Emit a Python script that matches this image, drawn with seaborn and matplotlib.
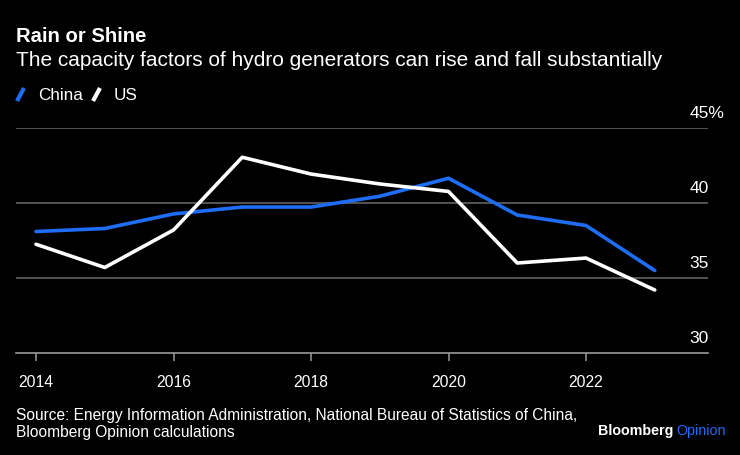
import matplotlib
matplotlib.use("Agg")
import matplotlib.pyplot as plt
from matplotlib.lines import Line2D
import pandas as pd
import seaborn as sns

years = [2014, 2015, 2016, 2017, 2018, 2019, 2020, 2021, 2022, 2023]
china = [38.1, 38.3, 39.27, 39.73, 39.73, 40.45, 41.65, 39.2, 38.5, 35.5]
us = [37.25, 35.7, 38.2, 43.05, 41.93, 41.27, 40.77, 36.0, 36.33, 34.2]
y_ticks = [30, 35, 40, 45]
y_labels = ["30", "35", "40", "45%"]
x_ticks = [2014, 2016, 2018, 2020, 2022]

BG = "#000000"
BLUE = "#1d6df5"
WHITE = "#ffffff"

df = pd.DataFrame({
    "year": years * 2,
    "value": china + us,
    "country": ["China"] * len(years) + ["US"] * len(years),
})

sns.set_theme(style="dark")
plt.rcParams["font.family"] = ["Liberation Sans", "DejaVu Sans"]

fig = plt.figure(figsize=(7.4, 4.56), dpi=100, facecolor=BG)
ax = fig.add_axes([16 / 740, 1 - 354 / 456, 692 / 740, 225 / 456])
ax.set_facecolor(BG)

sns.lineplot(data=df, x="year", y="value", hue="country",
             palette={"China": BLUE, "US": WHITE}, linewidth=2.6,
             legend=False, ax=ax, zorder=3)

ax.set_xlim(2014 - 20 / 68.75, 2014 + 672 / 68.75)
ax.set_ylim(30, 45)

# gridlines
for v in y_ticks[1:]:
    ax.axhline(v, color="#6b6b6b", linewidth=1.1, zorder=1)
for s in ["top", "right", "left"]:
    ax.spines[s].set_visible(False)
ax.spines["bottom"].set_color("#9a9a9a")
ax.spines["bottom"].set_linewidth(1.2)

ax.set_xticks(x_ticks)
ax.set_xticklabels([str(x) for x in x_ticks])
ax.tick_params(axis="x", colors="#9a9a9a", length=6, width=1.1, direction="out",
               labelcolor=WHITE, labelsize=11.3, pad=9, bottom=True)
ax.set_yticks([])
ax.set_xlabel("")
ax.set_ylabel("")
ax.grid(False)

# right-side y labels sitting above gridlines
for v, lab in zip(y_ticks, y_labels):
    ax.annotate(lab, xy=(1, v), xycoords=("axes fraction", "data"),
                xytext=(-13.5, 5.5), textcoords="offset points",
                ha="left", va="bottom", color=WHITE, fontsize=12.5)

# title and subtitle
fig.text(16 / 740, 1 - 36 / 456, "Rain or Shine", color=WHITE, fontsize=14.6,
         fontweight="bold", va="center", ha="left")
fig.text(16 / 740, 1 - 61 / 456,
         "The capacity factors of hydro generators can rise and fall substantially",
         color=WHITE, fontsize=15, va="center", ha="left")

# legend with slanted strokes
def legend_item(x0, color, label):
    y0 = 1 - 102 / 456
    fig.add_artist(Line2D([x0 / 740, (x0 + 7) / 740], [y0, y0 + 13 / 456],
                          color=color, linewidth=3, solid_capstyle="butt",
                          transform=fig.transFigure))
    fig.text((x0 + 21) / 740, 1 - 95 / 456, label, color=WHITE, fontsize=12.3,
             va="center", ha="left")

legend_item(17, BLUE, "China")
legend_item(93, WHITE, "US")

# source and branding
fig.text(16 / 740, 1 - 424 / 456,
         "Source: Energy Information Administration, National Bureau of Statistics of China,\n"
         "Bloomberg Opinion calculations",
         color=WHITE, fontsize=11.2, va="center", ha="left", linespacing=1.2)
t1 = fig.text(598 / 740, 1 - 431 / 456, "Bloomberg", color=WHITE, fontsize=10.3,
              fontweight="bold", va="center", ha="left")
fig.canvas.draw()
bb = t1.get_window_extent()
fig.text((bb.x1 + 3) / 740, 1 - 431 / 456, "Opinion", color=BLUE, fontsize=10.3,
         va="center", ha="left")

fig.savefig("out.png", dpi=100, facecolor=BG)
